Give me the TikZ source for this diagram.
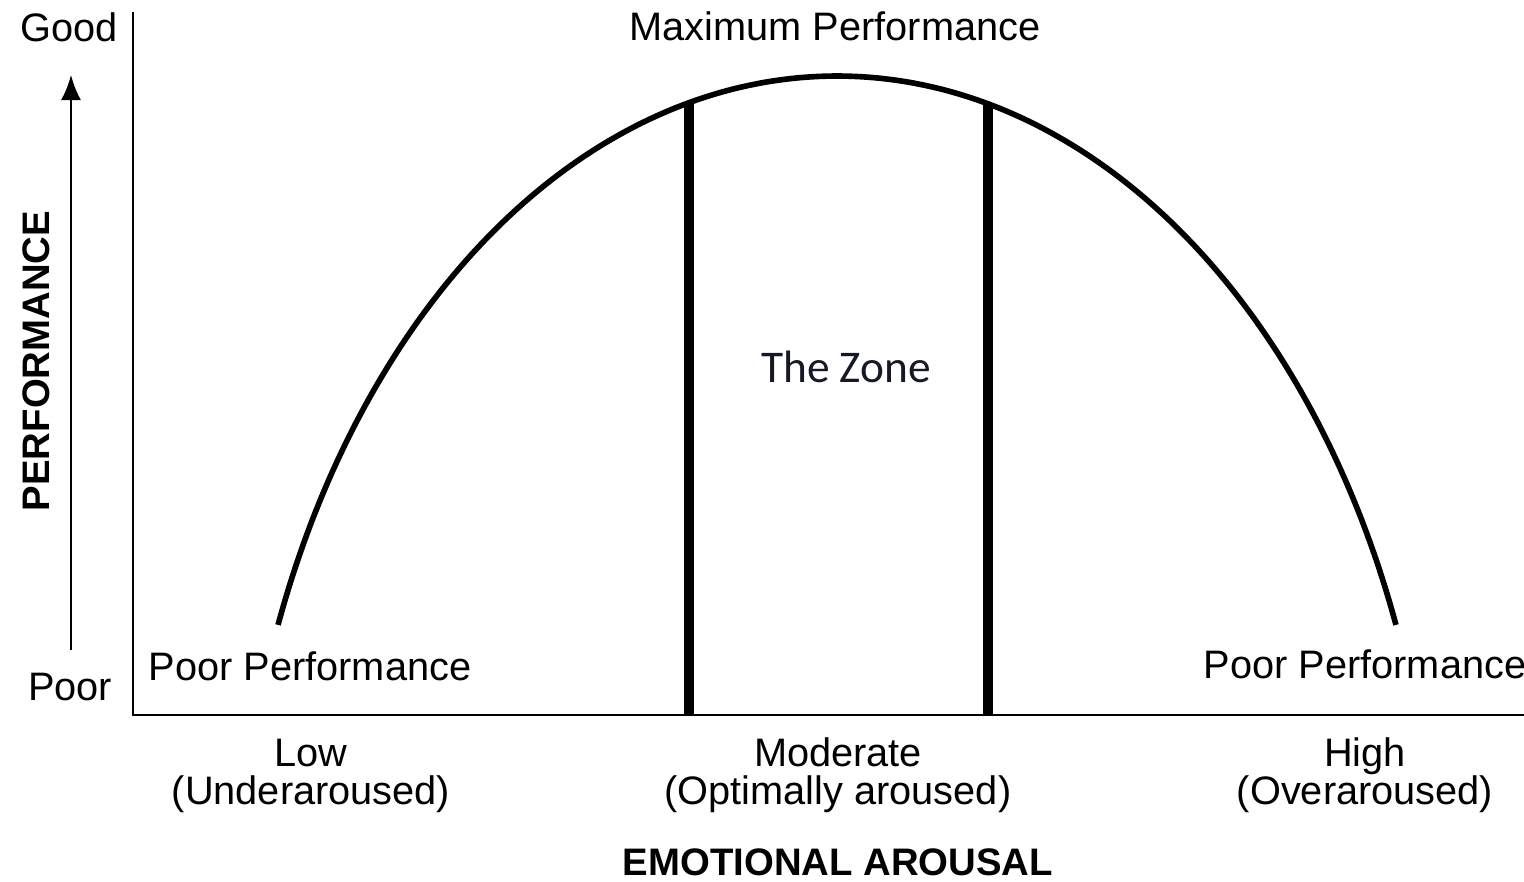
\documentclass[tikz,border=0pt]{standalone}
\usepackage{fontspec}
\setmainfont{Liberation Sans}
\newfontfamily\zonefont{Carlito}
\usepackage{xcolor}
\usetikzlibrary{positioning,arrows.meta}
\definecolor{zonetxt}{RGB}{22,24,40}
\tikzset{
  lbl/.style={font=\fontsize{11.3}{10.8}\selectfont, inner sep=0pt, align=center},
  ttl/.style={font=\fontsize{10.9}{12}\selectfont\bfseries, inner sep=0pt},
  zn/.style={font=\zonefont\fontsize{12.9}{14}\selectfont, text=zonetxt, inner sep=0pt},
  ax/.style={draw=black, line width=0.6pt},
  crv/.style={draw=black, line width=1.6pt},
  bar/.style={draw=black, line width=2.85pt},
  up/.style={draw=black, line width=0.6pt, -{Latex[length=0.25cm,width=0.2cm]}},
  yerkes/.style={x=0.01cm, y=-0.01cm}
}

\begin{document}
\begin{tikzpicture}[yerkes]
  \useasboundingbox (0,0) rectangle (1524,882);

  % Axes
  \coordinate (ytop) at (133,12);
  \coordinate (org) at (133,715);
  \coordinate (xend) at (1524,715);
  \draw[ax] (ytop) -- (org) -- (xend);

  % Performance arrow
  \coordinate (abot) at (71,650);
  \coordinate (atop) at (71,75);
  \draw[up] (abot) -- (atop);

  % Inverted-U curve
  \draw[crv] plot[domain=201.3:338.7, samples=90, smooth]
    ({837+600*cos(\x)}, {938+862*sin(\x)});

  % Zone bars
  \coordinate (zlt) at (689,103);
  \coordinate (zlb) at (689,716);
  \coordinate (zrt) at (988,104);
  \coordinate (zrb) at (988,716);
  \draw[bar] (zlt) -- (zlb);
  \draw[bar] (zrt) -- (zrb);

  % Y-axis labels
  \node[lbl, anchor=base] (good) at (69,42) {Good};
  \node[lbl, anchor=base] (poor) at (70,700) {Poor};
  \node[ttl, rotate=90] (perf) at (36,361) {PERFORMANCE};

  % Curve labels
  \node[lbl, anchor=base] (maxp) at (835,41) {Maximum Performance};
  \node[lbl, anchor=base] (ppl) at (310,680) {Poor Performance};
  \node[lbl, anchor=base] (ppr) at (1365,678) {Poor Performance};
  \node[zn, anchor=base] (zone) at (846,383) {The Zone};

  % X-axis labels (base = last line)
  \node[lbl, anchor=base] (low) at (311,804) {Low\\(Underaroused)};
  \node[lbl, anchor=base] (mod) at (838,804) {Moderate\\(Optimally aroused)};
  \node[lbl, anchor=base] (high) at (1365,804) {High\\(Overaroused)};
  \node[ttl, anchor=base] (xttl) at (838,875) {EMOTIONAL AROUSAL};
\end{tikzpicture}
\end{document}
